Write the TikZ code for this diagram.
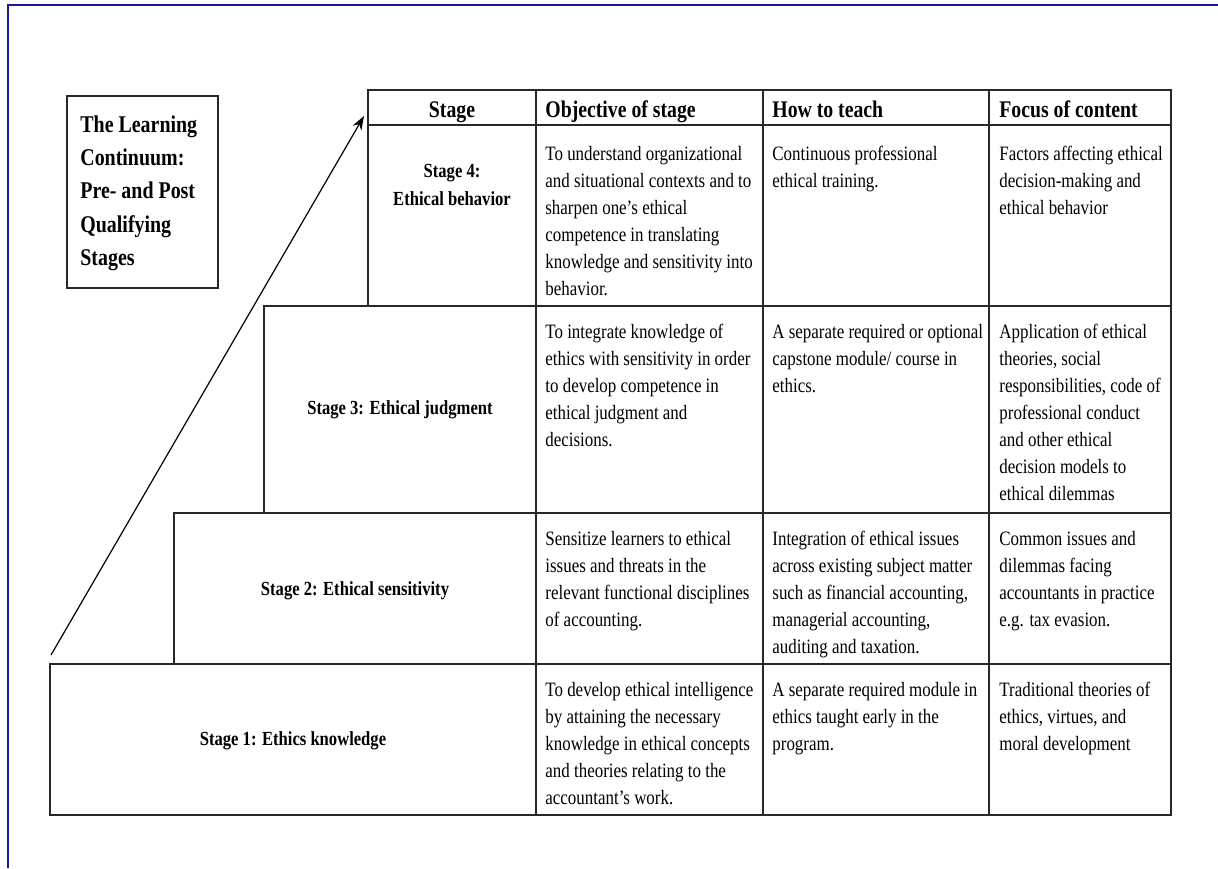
\documentclass[tikz,border=0pt]{standalone}
\usepackage{fontspec}
\setmainfont{Liberation Serif}[FakeStretch=0.83]
\usetikzlibrary{arrows.meta}
\definecolor{framenavy}{RGB}{24,24,150}
\definecolor{rulegray}{RGB}{40,40,40}
% stacked lines whose baseline is the first line's baseline
\newcommand\leftlines[1]{\begin{tabular}[t]{@{}l@{}}#1\end{tabular}}
\newcommand\centerlines[1]{\begin{tabular}[t]{@{}c@{}}#1\end{tabular}}
\begin{document}
\begin{tikzpicture}[x=0.5pt,y=-0.5pt,
  rulestyle/.style={draw=rulegray, line width=1pt},
  framestyle/.style={draw=framenavy, line width=1.2pt},
  arrowline/.style={draw=black, line width=0.6pt, -{Stealth[length=7pt,width=5pt]}},
  cell/.style={anchor=base west, inner sep=0pt, font=\fontsize{10.2}{13.5}\selectfont},
  headtext/.style={anchor=base west, inner sep=0pt, font=\fontsize{11.9}{14}\selectfont\bfseries},
  stagelabel/.style={anchor=base, inner sep=0pt, font=\fontsize{10}{14}\selectfont\bfseries},
  titletext/.style={anchor=base west, inner sep=0pt, font=\fontsize{12}{16.7}\selectfont\bfseries}]

\fill[white] (0,0) rectangle (1218,868);
\useasboundingbox (0,0) rectangle (1218,868);

% page frame (top and left edges)
\draw[framestyle] (8,868) -- (8,5) -- (1218,5);

% title box
\draw[rulestyle] (67,96) rectangle (218,288);
\node[titletext] (title) at (80,132) {\leftlines{The Learning\\Continuum:\\Pre- and Post\\Qualifying\\Stages}};

% rising arrow along the stair steps
\coordinate (risebot) at (51,655);
\coordinate (risetop) at (364,116);
\draw[arrowline] (risebot) -- (risetop);

% stepped table
\draw[rulestyle] (368,90) rectangle (1171,306);
\draw[rulestyle] (368,125) -- (1171,125);
\draw[rulestyle] (264,306) rectangle (1171,513);
\draw[rulestyle] (174,513) rectangle (1171,664);
\draw[rulestyle] (50,664) rectangle (1171,815);
\foreach \cx in {536,763,989} \draw[rulestyle] (\cx,90) -- (\cx,815);

% header
\node[headtext, anchor=base] (hStage) at (452,117) {Stage};
\node[headtext] (hObj) at (545,117) {Objective of stage};
\node[headtext] (hHow) at (772,117) {How to teach};
\node[headtext] (hFocus) at (999,117) {Focus of content};

% stage 4
\node[stagelabel] (s4) at (452,177) {\centerlines{Stage 4:\\Ethical behavior}};
\node[cell] (o4) at (545,160) {\leftlines{To understand organizational\\and situational contexts and to\\sharpen one’s ethical\\competence in translating\\knowledge and sensitivity into\\behavior.}};
\node[cell] (t4) at (772,160) {\leftlines{Continuous professional\\ethical training.}};
\node[cell] (f4) at (999,160) {\leftlines{Factors affecting ethical\\decision-making and\\ethical behavior}};

% stage 3
\node[stagelabel] (s3) at (400,414) {Stage 3: Ethical judgment};
\node[cell] (o3) at (545,338) {\leftlines{To integrate knowledge of\\ethics with sensitivity in order\\to develop competence in\\ethical judgment and\\decisions.}};
\node[cell] (t3) at (772,338) {\leftlines{A separate required or optional\\capstone module/ course in\\ethics.}};
\node[cell] (f3) at (999,338) {\leftlines{Application of ethical\\theories, social\\responsibilities, code of\\professional conduct\\and other ethical\\decision models to\\ethical dilemmas}};

% stage 2
\node[stagelabel] (s2) at (355,595) {Stage 2: Ethical sensitivity};
\node[cell] (o2) at (545,545) {\leftlines{Sensitize learners to ethical\\issues and threats in the\\relevant functional disciplines\\of accounting.}};
\node[cell] (t2) at (772,545) {\leftlines{Integration of ethical issues\\across existing subject matter\\such as financial accounting,\\managerial accounting,\\auditing and taxation.}};
\node[cell] (f2) at (999,545) {\leftlines{Common issues and\\dilemmas facing\\accountants in practice\\e.g. tax evasion.}};

% stage 1
\node[stagelabel] (s1) at (293,745) {Stage 1: Ethics knowledge};
\node[cell] (o1) at (545,696) {\leftlines{To develop ethical intelligence\\by attaining the necessary\\knowledge in ethical concepts\\and theories relating to the\\accountant’s work.}};
\node[cell] (t1) at (772,696) {\leftlines{A separate required module in\\ethics taught early in the\\program.}};
\node[cell] (f1) at (999,696) {\leftlines{Traditional theories of\\ethics, virtues, and\\moral development}};

\end{tikzpicture}
\end{document}
